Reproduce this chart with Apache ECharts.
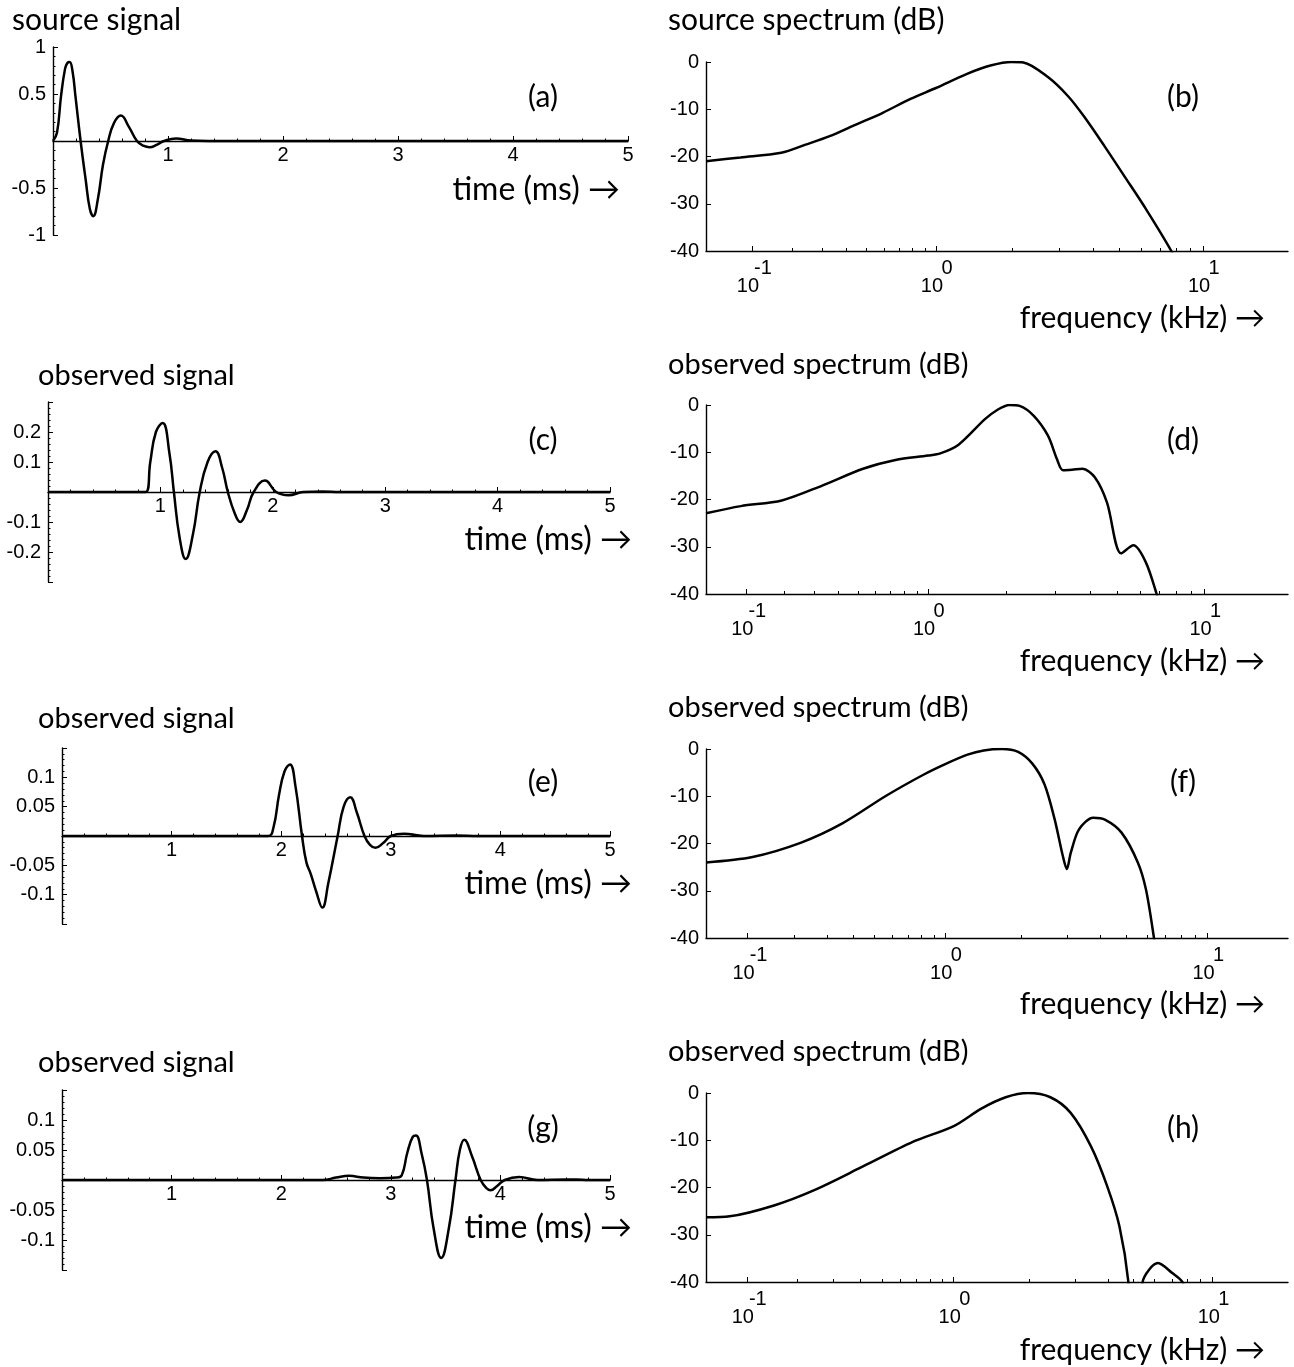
<!DOCTYPE html>
<html><head><meta charset="utf-8">
<script src="https://cdn.jsdelivr.net/npm/echarts@6/dist/echarts.min.js"></script>
<style>html,body{margin:0;padding:0;background:#fff}#c{width:1294px;height:1367px}</style>
</head><body><div id="c"></div>
<script>
// ---------------- data ----------------
// (a) source signal: time in ms, amplitude
const timeA = [0, 0.035, 0.07, 0.105, 0.125, 0.145, 0.17, 0.195, 0.24, 0.285, 0.32, 0.35, 0.39, 0.435, 0.48, 0.53, 0.59, 0.66, 0.73, 0.785, 0.84, 0.905, 0.965, 1.07, 1.2, 1.35, 5];
const sigA  = [0, 0.09, 0.48, 0.77, 0.83, 0.84, 0.74, 0.48, 0, -0.42, -0.72, -0.80, -0.62, -0.25, 0, 0.19, 0.27, 0.15, 0, -0.05, -0.067, -0.038, 0, 0.026, 0.005, 0, 0];
// (c) observed signal
const timeC = [0, 0.87, 0.91, 0.96, 1.02, 1.08, 1.12, 1.17, 1.225, 1.29, 1.35, 1.42, 1.49, 1.55, 1.60, 1.66, 1.71, 1.77, 1.83, 1.93, 2.03, 2.14, 2.27, 2.44, 2.6, 5];
const sigC  = [0, 0, 0.10, 0.20, 0.23, 0.13, 0, -0.15, -0.223, -0.14, 0, 0.10, 0.136, 0.08, 0, -0.07, -0.10, -0.06, 0, 0.038, 0, -0.011, 0, 0.002, 0, 0];
// (e) observed signal
const timeE = [0, 1.88, 1.93, 1.98, 2.03, 2.08, 2.13, 2.19, 2.23, 2.27, 2.32, 2.375, 2.43, 2.515, 2.57, 2.63, 2.69, 2.76, 2.81, 2.86, 2.93, 3.0, 3.12, 3.3, 3.6, 3.8, 5];
const sigE  = [0, 0, 0.015, 0.07, 0.11, 0.122, 0.085, 0, -0.045, -0.065, -0.095, -0.122, -0.08, 0, 0.05, 0.066, 0.04, 0, -0.015, -0.02, -0.012, 0, 0.004, 0, 0.001, 0, 0];
// (g) observed signal
const timeG = [0, 2.38, 2.5, 2.62, 2.75, 2.9, 3.05, 3.1, 3.15, 3.2, 3.23, 3.28, 3.33, 3.39, 3.46, 3.53, 3.59, 3.63, 3.67, 3.74, 3.82, 3.87, 3.91, 3.97, 4.04, 4.17, 4.34, 4.6, 4.7, 4.8, 5];
const sigG  = [0, 0, 0.004, 0.007, 0.004, 0.003, 0.004, 0.008, 0.045, 0.072, 0.074, 0.045, 0, -0.08, -0.13, -0.08, 0, 0.05, 0.067, 0.04, 0, -0.013, -0.017, -0.01, 0, 0.005, 0, 0.001, 0.001, 0, 0];

// spectra: frequency in kHz, level in dB
const freqB = [0.019, 0.077, 0.17, 0.242, 0.329, 0.436, 0.59, 0.783, 1.0, 1.333, 1.66, 1.98, 2.2, 2.72, 3.24, 3.71, 4.40, 5.22, 6.18, 7.69, 8.6];
const specB = [-21.0, -20.2, -19.2, -17.5, -15.7, -13.4, -10.8, -7.8, -5.5, -2.5, -0.7, 0, -0.1, -3.2, -7.3, -11.6, -17.8, -24.3, -30.8, -40, -46];
const freqD = [0.022, 0.088, 0.192, 0.333, 0.528, 0.734, 1.0, 1.118, 1.318, 1.661, 1.846, 2.049, 2.232, 2.515, 2.83, 3.05, 3.2, 3.45, 3.76, 4.155, 4.585, 5.14, 5.676, 6.259, 6.834, 7.1];
const specD = [-22.9, -21.4, -20.2, -17.05, -13.5, -11.65, -10.7, -10.25, -8.4, -3.0, -1.05, 0, -0.2, -2.3, -6.5, -11.5, -13.8, -13.7, -13.5, -15.3, -20.6, -31.4, -29.7, -33.2, -40, -44];
const freqF = [0.038, 0.109, 0.22, 0.355, 0.567, 0.81, 1.0, 1.229, 1.425, 1.68, 1.941, 2.202, 2.452, 2.68, 2.877, 2.981, 3.088, 3.315, 3.749, 4.165, 4.79, 5.51, 5.907, 6.33, 6.5];
const specF = [-24.0, -22.85, -19.8, -15.8, -9.85, -5.5, -3.2, -1.2, -0.3, 0, -0.6, -3.1, -7.5, -14.9, -22.6, -25.4, -21.9, -17.0, -14.55, -15.0, -17.7, -24.0, -29.7, -40, -45];
const freqH = [0.046, 0.075, 0.148, 0.245, 0.415, 0.675, 1.0, 1.291, 1.611, 1.971, 2.407, 2.882, 3.449, 3.98, 4.429, 4.791, 5.05, 5.425, 6.21, 7.03, 7.68, 8.0];
const specH = [-26.3, -26.1, -23.8, -20.5, -15.5, -10.4, -7.0, -3.3, -0.9, 0, -0.9, -4.2, -11.3, -19.75, -28.2, -40, -60, -40, -36.0, -38.1, -40, -43];

// tick values
const timeTicks = [1, 2, 3, 4, 5];
const freqMajorTicks = [0.1, 1, 10];
const freqMinorTicks = [0.2, 0.3, 0.4, 0.5, 0.6, 0.7, 0.8, 0.9, 2, 3, 4, 5, 6, 7, 8, 9];
const dbTicks = [0, -10, -20, -30, -40];

// ---------------- layout ----------------
const LABEL_FONT = 'Liberation Sans';
const TEXT_FONT = 'Lato';
const LABEL_SIZE = 20;

const chart = echarts.init(document.getElementById('c'), null, {renderer: 'canvas', width: 1294, height: 1367});
const grid = [], xAxis = [], yAxis = [], series = [], graphic = [];

function fmtNum(v) { return String(+v.toFixed(4)); }

function addSignal(p) {
  const gi = grid.length;
  grid.push({left: p.left, top: p.top, width: p.width, height: p.height});
  const xi = xAxis.length, yi = yAxis.length;
  xAxis.push({
    type: 'value', gridIndex: gi, position: 'bottom', offset: -p.height / 2, min: 0, max: 5, interval: 1,
    axisLine: {show: true, onZero: false, lineStyle: {color: '#000', width: 1.4}},
    axisTick: {show: true, inside: true, length: 5, lineStyle: {color: '#000', width: 1}},
    minorTick: {show: true, splitNumber: 5, length: 2.5, lineStyle: {color: '#000', width: 1}},
    axisLabel: {show: true, margin: 4, color: '#000', fontSize: LABEL_SIZE, fontFamily: LABEL_FONT,
      formatter: v => (timeTicks.indexOf(Math.round(v)) >= 0 && Math.abs(v - Math.round(v)) < 1e-9) ? String(Math.round(v)) : ''},
    splitLine: {show: false}, minorSplitLine: {show: false}
  });
  yAxis.push({
    type: 'value', gridIndex: gi, min: -p.yMax, max: p.yMax, interval: p.yStep,
    axisLine: {show: true, onZero: false, lineStyle: {color: '#000', width: 1.4}},
    axisTick: {show: true, inside: true, length: 5, lineStyle: {color: '#000', width: 1}},
    minorTick: {show: true, splitNumber: 5, length: 2.5, lineStyle: {color: '#000', width: 1}},
    axisLabel: {show: true, margin: 7, color: '#000', fontSize: LABEL_SIZE, fontFamily: LABEL_FONT,
      formatter: v => {
        if (Math.abs(v) < 1e-9) return '';
        if (p.hideEnds && Math.abs(Math.abs(v) - p.yMax) < 1e-9) return '';
        return fmtNum(v);
      }},
    splitLine: {show: false}, minorSplitLine: {show: false}
  });
  series.push({
    type: 'line', xAxisIndex: xi, yAxisIndex: yi, silent: true, animation: false,
    data: p.t.map((t, k) => [t, p.v[k]]), showSymbol: false, smooth: 0.45, clip: true,
    lineStyle: {color: '#000', width: 2.5}, z: 5
  });
}

function addSpectrum(p) {
  const u = f => Math.log10(f + p.offset);
  const gi = grid.length;
  grid.push({left: p.left, top: p.top, width: p.width, height: p.height});
  const xi = xAxis.length, yi = yAxis.length;
  const rich = {
    e: {fontSize: LABEL_SIZE, fontFamily: LABEL_FONT, color: '#000', padding: [0, 0, 0, 22], lineHeight: 18, align: 'center'},
    b: {fontSize: LABEL_SIZE, fontFamily: LABEL_FONT, color: '#000', padding: [0, 8, 0, 0], lineHeight: 18, align: 'center'}
  };
  xAxis.push({
    type: 'value', gridIndex: gi, position: 'bottom', min: u(p.fMin), max: u(p.fMax),
    axisLine: {show: true, onZero: false, lineStyle: {color: '#000', width: 1.4}},
    axisTick: {show: true, inside: true, length: 5, lineStyle: {color: '#000', width: 1}, customValues: freqMajorTicks.map(u)},
    axisLabel: {show: true, margin: 8, customValues: freqMajorTicks.map(u), rich: rich,
      formatter: v => {
        const e = Math.round(Math.log10(Math.pow(10, v) - p.offset));
        return '{e|' + e + '}\n{b|10}';
      }},
    splitLine: {show: false}
  });
  xAxis.push({
    type: 'value', gridIndex: gi, position: 'bottom', min: u(p.fMin), max: u(p.fMax),
    axisLine: {show: false, onZero: false},
    axisTick: {show: true, inside: true, length: 3, lineStyle: {color: '#000', width: 1}, customValues: freqMinorTicks.map(u)},
    axisLabel: {show: false},
    splitLine: {show: false}
  });
  yAxis.push({
    type: 'value', gridIndex: gi, min: -40, max: 0, interval: 10,
    axisLine: {show: true, onZero: false, lineStyle: {color: '#000', width: 1.4}},
    axisTick: {show: true, inside: true, length: 5, lineStyle: {color: '#000', width: 1}},
    axisLabel: {show: true, margin: 7, color: '#000', fontSize: LABEL_SIZE, fontFamily: LABEL_FONT,
      formatter: v => dbTicks.indexOf(Math.round(v)) >= 0 ? String(Math.round(v)) : ''},
    splitLine: {show: false}
  });
  series.push({
    type: 'line', xAxisIndex: xi, yAxisIndex: yi, silent: true, animation: false,
    data: p.f.map((f, k) => [u(f), p.db[k]]), showSymbol: false, smooth: 0.3, clip: true,
    lineStyle: {color: '#000', width: 2.5}, z: 5
  });
}

function text(str, x, y, size, align) {
  graphic.push({type: 'text', x: x, y: y, silent: true,
    style: {text: str, x: 0, y: 0, fill: '#000', font: size + 'px ' + TEXT_FONT,
      align: align || 'left', textAlign: align || 'left', verticalAlign: 'middle', textVerticalAlign: 'middle'}});
}

// signal panels
addSignal({left: 53, top: 47, width: 575, height: 188, yMax: 1, yStep: 0.5, hideEnds: false, t: timeA, v: sigA});
addSignal({left: 48, top: 402, width: 562, height: 180, yMax: 0.3, yStep: 0.1, hideEnds: true, t: timeC, v: sigC});
addSignal({left: 62, top: 748, width: 548, height: 176, yMax: 0.15, yStep: 0.05, hideEnds: true, t: timeE, v: sigE});
addSignal({left: 62, top: 1090, width: 548, height: 180, yMax: 0.15, yStep: 0.05, hideEnds: true, t: timeG, v: sigG});
// spectrum panels
addSpectrum({left: 706, top: 62, width: 582, height: 189, offset: 0.16, fMin: 0.019, fMax: 20.1, f: freqB, db: specB});
addSpectrum({left: 706, top: 405, width: 582, height: 189, offset: 0.19, fMin: 0.022, fMax: 19.3, f: freqD, db: specD});
addSpectrum({left: 706, top: 749, width: 582, height: 189, offset: 0.11, fMin: 0.038, fMax: 19.8, f: freqF, db: specF});
addSpectrum({left: 706, top: 1093, width: 582, height: 189, offset: 0.082, fMin: 0.046, fMax: 19.2, f: freqH, db: specH});

// titles
text('source signal', 12, 20, 30);
text('observed signal', 38, 376, 29);
text('observed signal', 38, 719, 29);
text('observed signal', 38, 1063, 29);
text('source spectrum (dB)', 668, 20, 30);
text('observed spectrum (dB)', 668, 365, 29);
text('observed spectrum (dB)', 668, 708, 29);
text('observed spectrum (dB)', 668, 1052, 29);
// panel tags
text('(a)', 543, 97, 30, 'center');
text('(b)', 1183, 97, 30, 'center');
text('(c)', 543, 440, 30, 'center');
text('(d)', 1183, 440, 30, 'center');
text('(e)', 543, 782, 30, 'center');
text('(f)', 1183, 782, 30, 'center');
text('(g)', 543, 1128, 30, 'center');
text('(h)', 1183, 1128, 30, 'center');
// axis names
text('time (ms) \u2192', 620, 190, 32, 'right');
text('time (ms) \u2192', 632, 540, 32, 'right');
text('time (ms) \u2192', 632, 884, 32, 'right');
text('time (ms) \u2192', 632, 1228, 32, 'right');
text('frequency (kHz) \u2192', 1265, 318, 30, 'right');
text('frequency (kHz) \u2192', 1265, 661, 30, 'right');
text('frequency (kHz) \u2192', 1265, 1004, 30, 'right');
text('frequency (kHz) \u2192', 1265, 1350, 30, 'right');

chart.setOption({animation: false, backgroundColor: '#fff', grid, xAxis, yAxis, series, graphic});
</script></body></html>
